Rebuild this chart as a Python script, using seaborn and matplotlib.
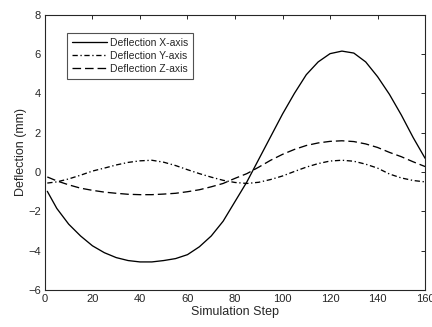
import numpy as np
import pandas as pd
import matplotlib
matplotlib.use('Agg')
import matplotlib.pyplot as plt
import seaborn as sns

steps = [1, 5, 10, 15, 20, 25, 30, 35, 40, 45, 50, 55, 60, 65, 70, 75, 80,
         85, 90, 95, 100, 105, 110, 115, 120, 125, 130, 135, 140, 145, 150, 155, 160]

defl_x = [-0.98, -1.85, -2.65, -3.25, -3.75, -4.1, -4.35, -4.5, -4.57, -4.57, -4.5,
          -4.4, -4.2, -3.8, -3.25, -2.5, -1.5, -0.5, 0.65, 1.8, 2.95, 4.0, 4.95, 5.6,
          6.02, 6.15, 6.05, 5.6, 4.85, 3.95, 2.9, 1.75, 0.7]

defl_y = [-0.56, -0.5, -0.35, -0.16, 0.05, 0.2, 0.36, 0.49, 0.57, 0.6, 0.5, 0.33,
          0.12, -0.08, -0.26, -0.42, -0.53, -0.58, -0.52, -0.38, -0.2, 0.03, 0.25,
          0.43, 0.56, 0.6, 0.55, 0.4, 0.2, -0.1, -0.3, -0.43, -0.5]

defl_z = [-0.25, -0.45, -0.65, -0.82, -0.93, -1.02, -1.08, -1.13, -1.15, -1.15, -1.12,
          -1.08, -1.0, -0.9, -0.75, -0.58, -0.32, -0.08, 0.25, 0.6, 0.9, 1.15, 1.35,
          1.48, 1.56, 1.59, 1.55, 1.43, 1.25, 1.0, 0.78, 0.52, 0.28]

labels = ['Deflection X-axis', 'Deflection Y-axis', 'Deflection Z-axis']

df = pd.DataFrame({'step': steps * 3,
                   'value': defl_x + defl_y + defl_z,
                   'series': [labels[0]] * len(steps) + [labels[1]] * len(steps) + [labels[2]] * len(steps)})

sns.set_theme(style='white')
plt.rcParams['font.family'] = ['Liberation Sans', 'DejaVu Sans']
dark = '#262626'

fig = plt.figure(figsize=(4.32, 3.27), dpi=100)
ax = fig.add_axes([0.104, 0.113, 0.88, 0.842])

sns.lineplot(data=df, x='step', y='value', style='series', color='black',
             dashes={labels[0]: '', labels[1]: (4, 2, 1, 2), labels[2]: (6.5, 3)},
             linewidth=0.95, ax=ax)

ax.set_xlim(0, 160)
ax.set_ylim(-6, 8)
ax.set_xticks(range(0, 161, 20))
ax.set_yticks(range(-6, 9, 2))
ax.tick_params(direction='in', length=3, width=0.7, colors=dark, labelsize=8,
               top=True, right=True, labelcolor=dark, pad=3)
for s in ax.spines.values():
    s.set_visible(True)
    s.set_color(dark)
    s.set_linewidth(0.8)

ax.set_xlabel('Simulation Step', fontsize=9, color=dark, labelpad=1)
ax.set_ylabel('Deflection (mm)', fontsize=9, color=dark, labelpad=1)

leg = ax.legend(loc='upper left', bbox_to_anchor=(0.058, 0.933), borderaxespad=0,
                fontsize=7.5, frameon=True, fancybox=False, handlelength=3.4,
                handletextpad=0.3, labelspacing=0.3, borderpad=0.45)
leg.get_frame().set_edgecolor(dark)
leg.get_frame().set_linewidth(0.8)
for t in leg.get_texts():
    t.set_color(dark)

fig.savefig('out.png', dpi=100)
